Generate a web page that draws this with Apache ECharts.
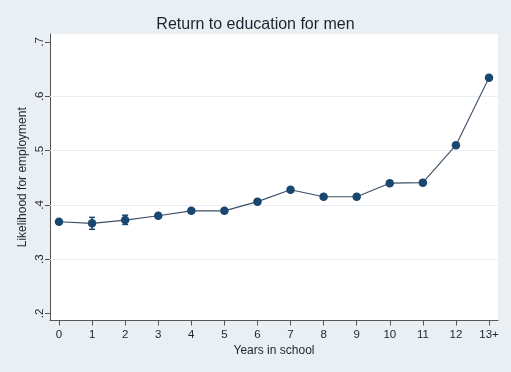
<!DOCTYPE html>
<html>
<head>
<meta charset="utf-8">
<script src="https://cdn.jsdelivr.net/npm/echarts@6/dist/echarts.min.js"></script>
<style>
html,body{margin:0;padding:0;background:#e9eff2;}
#c{width:511px;height:372px;}
</style>
</head>
<body>
<div id="c"></div>
<script>
var categories = ['0','1','2','3','4','5','6','7','8','9','10','11','12','13+'];
var values = [0.369,0.366,0.372,0.380,0.389,0.389,0.406,0.428,0.415,0.415,0.440,0.441,0.510,0.634];
var ciLow  = [0.366,0.355,0.364,0.376,0.385,0.385,0.402,0.424,0.411,0.411,0.436,0.437,0.506,0.630];
var ciHigh = [0.372,0.377,0.381,0.384,0.393,0.393,0.410,0.432,0.419,0.419,0.444,0.445,0.514,0.638];
var yTicks = [0.2,0.3,0.4,0.5,0.6,0.7];
var yTickLabels = ['.2','.3','.4','.5','.6','.7'];
var gridLineValues = [0.3,0.4,0.5,0.6];

var navy = '#1a476f';
var lineData = values.map(function(v,i){return [i,v];});
var errData = values.map(function(v,i){return [i,ciLow[i],ciHigh[i]];});

var chart = echarts.init(document.getElementById('c'), null, {renderer:'canvas'});
chart.setOption({
  backgroundColor:'#e9eff2',
  animation:false,
  textStyle:{fontFamily:'Liberation Sans, Arial, sans-serif'},
  title:{
    text:'Return to education for men',
    left:'center', top:17, padding:0,
    textStyle:{fontSize:16,fontWeight:'normal',color:'#1e2233',fontFamily:'Liberation Sans, Arial, sans-serif'}
  },
  grid:{left:50,right:13,top:34,bottom:51.5,show:true,backgroundColor:'#ffffff',borderWidth:0,containLabel:false},
  xAxis:{
    type:'value', min:-0.272, max:13.272,
    name:'Years in school', nameLocation:'middle', nameGap:24, nameMoveOverlap:false,
    nameTextStyle:{fontSize:12,color:'#1e2233'},
    axisLine:{show:true,onZero:false,lineStyle:{color:'#555',width:1}},
    axisTick:{show:true,length:5,inside:false,lineStyle:{color:'#555'},customValues:categories.map(function(c,i){return i;})},
    axisLabel:{fontSize:11.5,color:'#1e2233',margin:8,customValues:categories.map(function(c,i){return i;}),
      formatter:function(v){return categories[Math.round(v)];}},
    splitLine:{show:false}
  },
  yAxis:{
    type:'value', min:0.1871, max:0.7147,
    name:'Likelihood for employment', nameLocation:'middle', nameGap:21, nameRotate:90, nameMoveOverlap:false,
    nameTextStyle:{fontSize:12,color:'#1e2233'},
    axisLine:{show:true,onZero:false,lineStyle:{color:'#555',width:1}},
    axisTick:{show:true,length:5,lineStyle:{color:'#555'},customValues:yTicks},
    axisLabel:{fontSize:11.5,color:'#1e2233',margin:4,rotate:90,customValues:yTicks,
      formatter:function(v){var i=yTicks.findIndex(function(t){return Math.abs(t-v)<1e-6;});return i>=0?yTickLabels[i]:'';}},
    splitLine:{show:false}
  },
  series:[
    {
      type:'line', data:lineData, symbol:'circle', symbolSize:8.5,
      itemStyle:{color:navy},
      lineStyle:{color:'#3d4f66',width:1.1},
      z:3,
      markLine:{
        silent:true, symbol:['none','none'], label:{show:false},
        lineStyle:{color:'#eaeef1',width:1,type:'solid'},
        data:gridLineValues.map(function(v){return {yAxis:v};}),
        z:1
      }
    },
    {
      type:'custom', data:errData, z:4,
      renderItem:function(params,api){
        var x=api.value(0);
        var lo=api.coord([x,api.value(1)]);
        var hi=api.coord([x,api.value(2)]);
        var w=3;
        var st={stroke:navy,lineWidth:1.5};
        return {type:'group',children:[
          {type:'line',shape:{x1:lo[0],y1:lo[1],x2:hi[0],y2:hi[1]},style:st},
          {type:'line',shape:{x1:lo[0]-w,y1:lo[1],x2:lo[0]+w,y2:lo[1]},style:st},
          {type:'line',shape:{x1:hi[0]-w,y1:hi[1],x2:hi[0]+w,y2:hi[1]},style:st}
        ]};
      }
    }
  ]
});
</script>
</body>
</html>
